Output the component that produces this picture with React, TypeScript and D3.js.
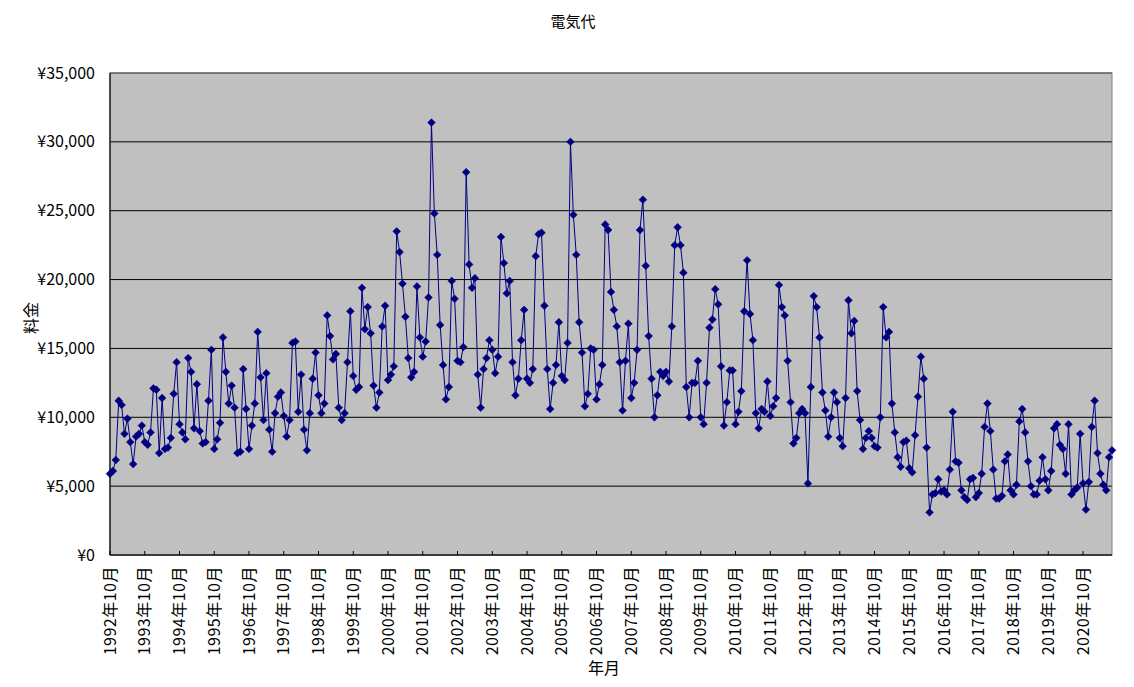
import React from "react";
import * as d3 from "d3";

const chartTitle = "電気代";
const yTitle = "料金";
const xTitle = "年月";
const startYear = 1992;
const startMonth = 10;

// monthly charges, 1992年10月 onward
const values: number[] = [
  5900, 6100, 6900, 11200, 10900, 8800, 9900, 8200, 6600, 8600, 8800, 9400,
  8200, 8000, 8900, 12100, 12000, 7400, 11400, 7700, 7800, 8500, 11700, 14000,
  9500, 8900, 8400, 14300, 13300, 9200, 12400, 9000, 8100, 8200, 11200, 14900,
  7700, 8400, 9600, 15800, 13300, 11000, 12300, 10700, 7400, 7500, 13500, 10600,
  7700, 9400, 11000, 16200, 12900, 9800, 13200, 9100, 7500, 10300, 11500, 11800,
  10100, 8600, 9800, 15400, 15500, 10400, 13100, 9100, 7600, 10300, 12800, 14700,
  11600, 10300, 11000, 17400, 15900, 14200, 14600, 10700, 9800, 10300, 14000, 17700,
  13000, 12000, 12200, 19400, 16400, 18000, 16100, 12300, 10700, 11800, 16600, 18100,
  12700, 13100, 13700, 23500, 22000, 19700, 17300, 14300, 12900, 13300, 19500, 15800,
  14400, 15500, 18700, 31400, 24800, 21800, 16700, 13800, 11300, 12200, 19900, 18600,
  14100, 14000, 15100, 27800, 21100, 19400, 20100, 13100, 10700, 13500, 14300, 15600,
  14900, 13200, 14400, 23100, 21200, 19000, 19900, 14000, 11600, 12800, 15600, 17800,
  12800, 12500, 13500, 21700, 23300, 23400, 18100, 13500, 10600, 12500, 13800, 16900,
  13000, 12700, 15400, 30000, 24700, 21800, 16900, 14700, 10800, 11700, 15000, 14900,
  11300, 12400, 13800, 24000, 23600, 19100, 17800, 16600, 14000, 10500, 14100, 16800,
  11400, 12500, 14900, 23600, 25800, 21000, 15900, 12800, 10000, 11600, 13300, 13000,
  13300, 12600, 16600, 22500, 23800, 22500, 20500, 12200, 10000, 12500, 12500, 14100,
  10000, 9500, 12500, 16500, 17100, 19300, 18200, 13700, 9400, 11100, 13400, 13400,
  9500, 10400, 11900, 17700, 21400, 17500, 15600, 10300, 9200, 10600, 10400, 12600,
  10100, 10800, 11400, 19600, 18000, 17400, 14100, 11100, 8100, 8500, 10300, 10600,
  10300, 5200, 12200, 18800, 18000, 15800, 11800, 10500, 8600, 10000, 11800, 11100,
  8500, 7900, 11400, 18500, 16100, 17000, 11900, 9800, 7700, 8500, 9000, 8500,
  7900, 7800, 10000, 18000, 15800, 16200, 11000, 8900, 7100, 6400, 8200, 8300,
  6300, 6000, 8700, 11500, 14400, 12800, 7800, 3100, 4400, 4500, 5500, 4600,
  4700, 4400, 6200, 10400, 6800, 6700, 4700, 4200, 4000, 5500, 5600, 4200,
  4500, 5900, 9300, 11000, 9000, 6200, 4100, 4100, 4300, 6800, 7300, 4700,
  4400, 5100, 9700, 10600, 8900, 6800, 5000, 4400, 4400, 5400, 7100, 5500,
  4700, 6100, 9200, 9500, 8000, 7700, 5900, 9500, 4400, 4700, 4900, 8800,
  5200, 3300, 5300, 9300, 11200, 7400, 5900, 5100, 4700, 7100, 7600,
];

const categories: string[] = values.map((_, i) => {
  const m = startMonth - 1 + i;
  return `${startYear + Math.floor(m / 12)}年${(m % 12) + 1}月`;
});

const tickLabels = [
  "1992年10月", "1993年10月", "1994年10月", "1995年10月", "1996年10月",
  "1997年10月", "1998年10月", "1999年10月", "2000年10月", "2001年10月",
  "2002年10月", "2003年10月", "2004年10月", "2005年10月", "2006年10月",
  "2007年10月", "2008年10月", "2009年10月", "2010年10月", "2011年10月",
  "2012年10月", "2013年10月", "2014年10月", "2015年10月", "2016年10月",
  "2017年10月", "2018年10月", "2019年10月", "2020年10月",
];

const yTicks = [0, 5000, 10000, 15000, 20000, 25000, 30000, 35000];

const FONT = "'Noto Sans CJK JP', 'Noto Sans', sans-serif";
const NAVY = "#000080";

export default function App() {
  const W = 1134;
  const H = 687;
  const left = 110;
  const right = 1112;
  const top = 73;
  const bottom = 555;

  const x = d3.scalePoint<string>().domain(categories).range([left, right]);
  const y = d3.scaleLinear().domain([0, 35000]).range([bottom, top]);
  const fmt = (v: number) => "¥" + d3.format(",")(v);

  const linePath = d3
    .line<number>()
    .x((_, i) => x(categories[i]) as number)
    .y((d) => y(d))(values) as string;

  const r = 3.9;
  const diamond = `M0,${-r}L${r},0L0,${r}L${-r},0Z`;

  return (
    <svg
      width={W}
      height={H}
      style={{ position: "absolute", left: 0, top: 0, background: "#fff" }}
      fontFamily={FONT}
    >
      <rect x={0} y={0} width={W} height={H} fill="#fff" />
      <text x={573} y={27} fontSize={15} textAnchor="middle" fill="#000">
        {chartTitle}
      </text>
      <rect x={left} y={top} width={right - left} height={bottom - top} fill="#c0c0c0" />
      {yTicks.map((t) => (
        <g key={t}>
          <line x1={left} x2={right} y1={y(t)} y2={y(t)} stroke="#000" strokeWidth={1} />
          <text x={95} y={y(t)} dy="0.35em" fontSize={16} textAnchor="end" fill="#000">
            {fmt(t)}
          </text>
        </g>
      ))}
      <rect
        x={left}
        y={top}
        width={right - left}
        height={bottom - top}
        fill="none"
        stroke="#808080"
        strokeWidth={1}
      />
      <line x1={left} x2={left} y1={top} y2={bottom} stroke="#000" strokeWidth={1.2} />
      <line x1={left} x2={right} y1={bottom} y2={bottom} stroke="#000" strokeWidth={1.2} />
      {tickLabels.map((lab) => {
        const xp = x(lab) as number;
        return (
          <g key={lab}>
            <line x1={xp} x2={xp} y1={bottom} y2={bottom - 4} stroke="#000" strokeWidth={1} />
            <text
              transform={`translate(${xp},${566}) rotate(-90)`}
              dy="0.35em"
              fontSize={16}
              letterSpacing={0.5}
              textAnchor="end"
              fill="#000"
            >
              {lab}
            </text>
          </g>
        );
      })}
      <path d={linePath} fill="none" stroke={NAVY} strokeWidth={1} />
      {values.map((v, i) => (
        <path
          key={i}
          d={diamond}
          transform={`translate(${x(categories[i])},${y(v)})`}
          fill={NAVY}
          stroke={NAVY}
          strokeWidth={0.5}
        />
      ))}
      <text
        transform={`translate(31,318) rotate(-90)`}
        dy="0.35em"
        fontSize={16}
        textAnchor="middle"
        fill="#000"
      >
        {yTitle}
      </text>
      <text x={604} y={674} fontSize={16} textAnchor="middle" fill="#000">
        {xTitle}
      </text>
    </svg>
  );
}
